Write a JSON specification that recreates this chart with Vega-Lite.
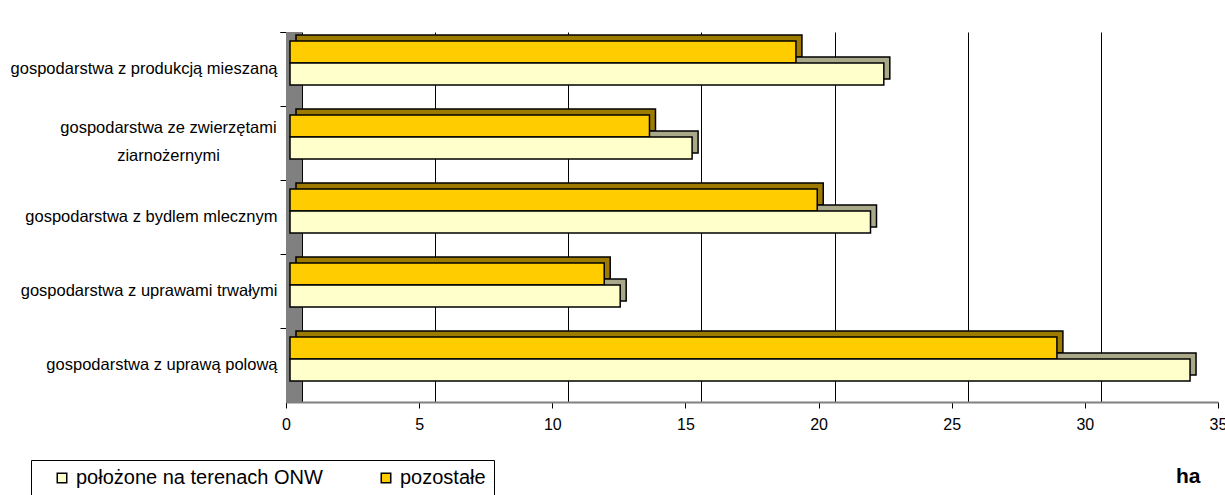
{
  "$schema": "https://vega.github.io/schema/vega-lite/v6.json",
  "width": 932,
  "height": 370,
  "autosize": "none",
  "padding": {"left": 286, "top": 32, "right": 7, "bottom": 93},
  "background": "white",
  "config": {"font": "Liberation Sans", "view": {"stroke": null}},
  "data": {
    "values": [
      {"kategoria": "gospodarstwa z produkcją mieszaną", "seria": "pozostałe", "ha": 19.0},
      {"kategoria": "gospodarstwa z produkcją mieszaną", "seria": "położone na terenach ONW", "ha": 22.3},
      {"kategoria": "gospodarstwa ze zwierzętami ziarnożernymi", "seria": "pozostałe", "ha": 13.5},
      {"kategoria": "gospodarstwa ze zwierzętami ziarnożernymi", "seria": "położone na terenach ONW", "ha": 15.1},
      {"kategoria": "gospodarstwa z bydlem mlecznym", "seria": "pozostałe", "ha": 19.8},
      {"kategoria": "gospodarstwa z bydlem mlecznym", "seria": "położone na terenach ONW", "ha": 21.8},
      {"kategoria": "gospodarstwa z uprawami trwałymi", "seria": "pozostałe", "ha": 11.8},
      {"kategoria": "gospodarstwa z uprawami trwałymi", "seria": "położone na terenach ONW", "ha": 12.4},
      {"kategoria": "gospodarstwa z uprawą polową", "seria": "pozostałe", "ha": 28.8},
      {"kategoria": "gospodarstwa z uprawą polową", "seria": "położone na terenach ONW", "ha": 33.8}
    ]
  },
  "encoding": {
    "y": {
      "field": "kategoria",
      "type": "nominal",
      "sort": [
        "gospodarstwa z produkcją mieszaną",
        "gospodarstwa ze zwierzętami ziarnożernymi",
        "gospodarstwa z bydlem mlecznym",
        "gospodarstwa z uprawami trwałymi",
        "gospodarstwa z uprawą polową"
      ],
      "scale": {"paddingInner": 0, "paddingOuter": 0},
      "axis": {
        "title": null,
        "domain": false,
        "bandPosition": 0,
        "tickExtra": true,
        "tickSize": 6,
        "tickColor": "black",
        "labelFontSize": 16.5,
        "labelColor": "black",
        "labelLimit": 400,
        "labelLineHeight": 28,
        "labelExpr": "datum.value == 'gospodarstwa ze zwierzętami ziarnożernymi' ? ['gospodarstwa ze zwierzętami', 'ziarnożernymi'] : datum.value",
        "labelAlign": {"condition": {"test": "datum.value == 'gospodarstwa ze zwierzętami ziarnożernymi'", "value": "center"}, "value": "right"},
        "labelPadding": {"condition": {"test": "datum.value == 'gospodarstwa ze zwierzętami ziarnożernymi'", "value": 112}, "value": 3},
        "labelOffset": {"condition": {"test": "datum.value == 'gospodarstwa ze zwierzętami ziarnożernymi'", "value": -15}, "value": 0}
      }
    }
  },
  "layer": [
    {
      "data": {"values": [{}]},
      "mark": {"type": "rect", "color": "#808080"},
      "encoding": {
        "y": null,
        "x": {
          "datum": 0,
          "type": "quantitative",
          "axis": {
            "orient": "top",
            "grid": true,
            "gridColor": "black",
            "gridWidth": 1,
            "tickOffset": 16,
            "labels": false,
            "ticks": false,
            "domain": false,
            "tickCount": 7,
            "title": null
          }
        },
        "x2": {"datum": 0.6}
      }
    },
    {
      "mark": {"type": "bar", "stroke": "black", "strokeWidth": 1.5, "xOffset": 10, "x2Offset": 10},
      "encoding": {
        "x": {"field": "ha", "type": "quantitative", "axis": null},
        "yOffset": {
          "field": "seria",
          "sort": ["pozostałe", "położone na terenach ONW"],
          "scale": {"paddingInner": 0, "paddingOuter": 0.68, "align": 0.1}
        },
        "fill": {"condition": {"test": "datum.seria == 'pozostałe'", "value": "#9C7B00"}, "value": "#A9A98A"}
      }
    },
    {
      "mark": {"type": "bar", "stroke": "black", "strokeWidth": 1.5, "xOffset": 4, "x2Offset": 4},
      "encoding": {
        "yOffset": {
          "field": "seria",
          "sort": ["pozostałe", "położone na terenach ONW"],
          "scale": {"paddingInner": 0, "paddingOuter": 0.68, "align": 0.3}
        },
        "x": {
          "field": "ha",
          "type": "quantitative",
          "scale": {"domain": [0, 35], "nice": false},
          "axis": {
            "orient": "bottom",
            "grid": false,
            "tickCount": 7,
            "tickSize": 6,
            "tickColor": "black",
            "domainColor": "#808080",
            "domainWidth": 2,
            "labelFontSize": 16,
            "labelColor": "black",
            "labelPadding": 8,
            "labelFlush": false,
            "title": "ha",
            "titleFontSize": 21,
            "titleFontWeight": "bold",
            "titleColor": "black",
            "titleX": 914,
            "titleY": 80,
            "titleAlign": "right",
            "titleBaseline": "alphabetic",
            "titleAnchor": null
          }
        },
        "color": {
          "field": "seria",
          "type": "nominal",
          "scale": {"domain": ["położone na terenach ONW", "pozostałe"], "range": ["#FFFFCC", "#FFCC00"]},
          "legend": {
            "orient": "none",
            "legendX": -255,
            "legendY": 428,
            "direction": "horizontal",
            "title": null,
            "strokeColor": "black",
            "fillColor": "white",
            "padding": 8,
            "symbolType": "square",
            "symbolSize": 90,
            "symbolStrokeColor": "black",
            "symbolStrokeWidth": 1.5,
            "symbolOffset": 13,
            "labelFontSize": 20,
            "labelOffset": 4,
            "labelColor": "black",
            "labelLimit": 400,
            "columnPadding": 40
          }
        }
      }
    }
  ],
  "resolve": {"axis": {"x": "independent"}, "scale": {"yOffset": "independent"}}
}
